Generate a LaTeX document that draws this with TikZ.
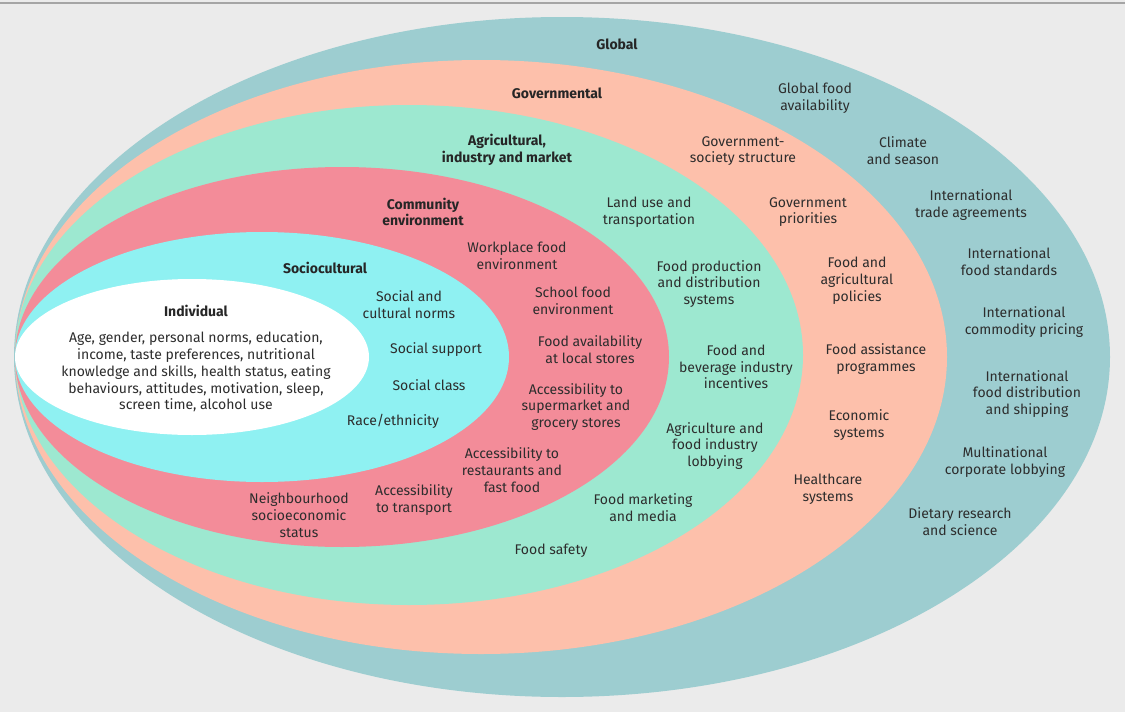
\documentclass[tikz,border=0pt]{standalone}
\usepackage{fontspec}
\setmainfont{Fira Sans}
\usepackage{tikz}
\usetikzlibrary{positioning}
\definecolor{bggray}{RGB}{235,235,235}
\definecolor{rulegray}{RGB}{165,165,165}
\definecolor{globalcol}{RGB}{157,205,208}
\definecolor{govcol}{RGB}{253,192,171}
\definecolor{agricol}{RGB}{157,232,208}
\definecolor{commcol}{RGB}{243,140,153}
\definecolor{sociocol}{RGB}{143,241,242}
\definecolor{txtgray}{RGB}{45,45,45}

\tikzset{
  lbl/.style={align=center, text=txtgray, inner sep=0pt, font=\fontsize{14}{16.8}\selectfont},
  ttl/.style={lbl, text=black!85, font=\fontsize{14}{16.8}\selectfont\bfseries},
}

\begin{document}
\begin{tikzpicture}[x=1pt, y=-1pt]
    \useasboundingbox (0,0) rectangle (1125,712);
    \fill[bggray] (0,0) rectangle (1125,712);
    \draw[rulegray, line width=1.2pt] (0,3) -- (1125,3);
    % layers, outside in
    \fill[globalcol] (562,357) ellipse [x radius=548, y radius=340];
    \fill[govcol]    (481,357) ellipse [x radius=466, y radius=297];
    \fill[agricol]   (409,355) ellipse [x radius=394, y radius=250];
    \fill[commcol]   (342,357) ellipse [x radius=327, y radius=190];
    \fill[sociocol]  (262,357) ellipse [x radius=247, y radius=125];
    \fill[white]     (192,357) ellipse [x radius=177, y radius=78];
    % layer titles
    \node[ttl] (global) at (617,44)  {Global};
    \node[ttl] (gov)    at (557,93)  {Governmental};
    \node[ttl] (agri)   at (507,150) {Agricultural,\\industry and market};
    \node[ttl] (comm)   at (423,212) {Community\\environment};
    \node[ttl] (socio)  at (325,268) {Sociocultural};
    \node[ttl] (indiv)  at (196,311) {Individual};
    % individual
    \node[lbl] (indivtxt) at (196,372) {Age, gender, personal norms, education,\\income, taste preferences, nutritional\\knowledge and skills, health status, eating\\behaviours, attitudes, motivation, sleep,\\screen time, alcohol use};
    % sociocultural
    \node[lbl] (norms)   at (409,305) {Social and\\cultural norms};
    \node[lbl] (support) at (436,350) {Social support};
    \node[lbl] (class)   at (429,385) {Social class};
    \node[lbl] (race)    at (393,421) {Race/ethnicity};
    % community environment
    \node[lbl] (workplace)  at (517,256) {Workplace food\\environment};
    \node[lbl] (school)     at (573,301) {School food\\environment};
    \node[lbl] (localstore) at (590,350) {Food availability\\at local stores};
    \node[lbl] (supermkt)   at (576,407) {Accessibility to\\supermarket and\\grocery stores};
    \node[lbl] (restaur)    at (512,470) {Accessibility to\\restaurants and\\fast food};
    \node[lbl] (transport)  at (414,500) {Accessibility\\to transport};
    \node[lbl] (neighb)     at (299,515) {Neighbourhood\\socioeconomic\\status};
    % agricultural, industry and market
    \node[lbl] (landuse)   at (649,212) {Land use and\\transportation};
    \node[lbl] (prodsys)   at (709,284) {Food production\\and distribution\\systems};
    \node[lbl] (bevind)    at (736,367) {Food and\\beverage industry\\incentives};
    \node[lbl] (agrilobby) at (715,446) {Agriculture and\\food industry\\lobbying};
    \node[lbl] (marketing) at (643,508) {Food marketing\\and media};
    \node[lbl] (safety)    at (551,551) {Food safety};
    % governmental
    \node[lbl] (govsoc)     at (743,151) {Government-\\society structure};
    \node[lbl] (govprio)    at (808,212) {Government\\priorities};
    \node[lbl] (agripol)    at (857,281) {Food and\\agricultural\\policies};
    \node[lbl] (assist)     at (876,359) {Food assistance\\programmes};
    \node[lbl] (economic)   at (859,425) {Economic\\systems};
    \node[lbl] (healthcare) at (828,489) {Healthcare\\systems};
    % global
    \node[lbl] (globavail) at (815,98)  {Global food\\availability};
    \node[lbl] (climate)   at (903,151) {Climate\\and season};
    \node[lbl] (trade)     at (971,205) {International\\trade agreements};
    \node[lbl] (standards) at (1009,262) {International\\food standards};
    \node[lbl] (pricing)   at (1024,322) {International\\commodity pricing};
    \node[lbl] (shipping)  at (1027,394) {International\\food distribution\\and shipping};
    \node[lbl] (multinat)  at (1005,462) {Multinational\\corporate lobbying};
    \node[lbl] (dietary)   at (960,522) {Dietary research\\and science};
\end{tikzpicture}
\end{document}
